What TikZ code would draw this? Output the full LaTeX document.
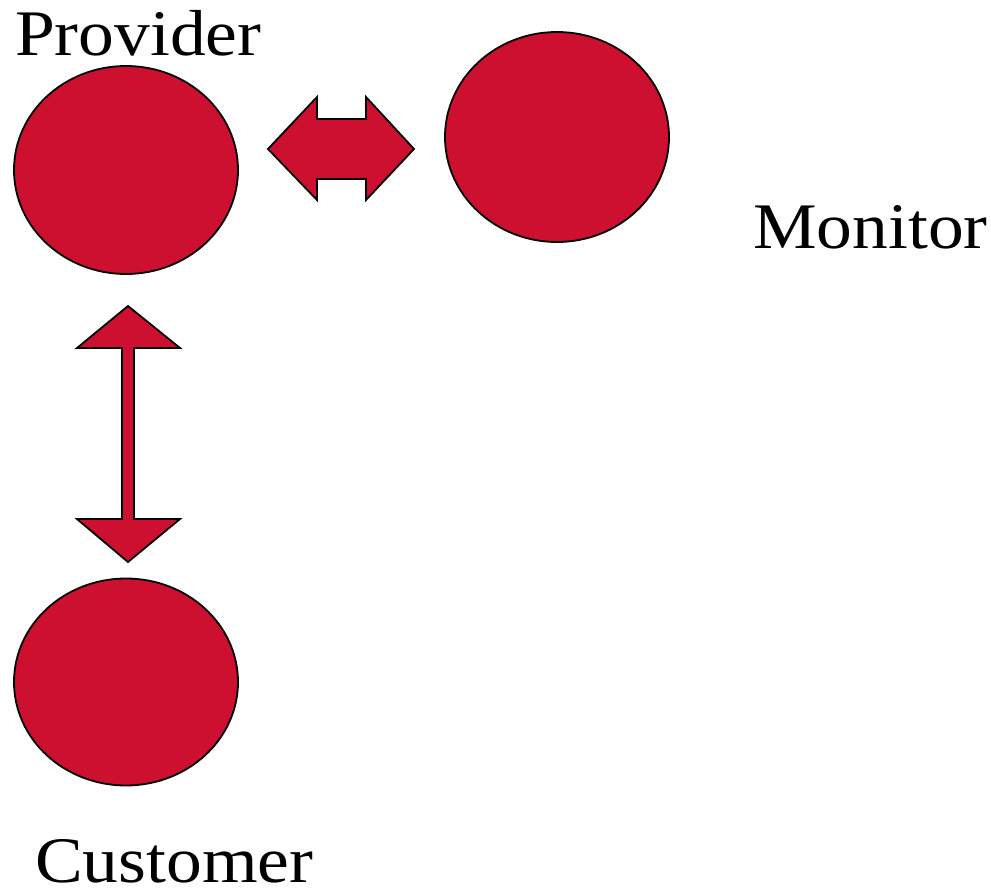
\documentclass[tikz,border=0pt]{standalone}
\usepackage{fontspec}
\setmainfont{Liberation Serif}
\usetikzlibrary{shapes.geometric}
\definecolor{ared}{RGB}{206,16,48}
\newcommand{\widetext}[1]{\scalebox{1.1}[1]{#1}}
\begin{document}
\begin{tikzpicture}[x=1pt,y=-1pt,
  blob/.style={ellipse,draw=black,line width=1.8pt,fill=ared,inner sep=0pt},
  blockarrow/.style={draw=black,line width=1.8pt,fill=ared,line join=miter},
  lbl/.style={anchor=base west,inner sep=0pt,text depth=0pt,font=\fontsize{65}{70}\selectfont}]
\useasboundingbox (0,0) rectangle (991,894);
\node[blob,minimum width=224pt,minimum height=208pt] (provider) at (126,170) {};
\node[blob,minimum width=224pt,minimum height=210pt] (monitor) at (557,137) {};
\node[blob,minimum width=224pt,minimum height=207pt] (customer) at (126,682) {};
\node[lbl] (ptext) at (15,55) {\widetext{Provider}};
\node[lbl] (mtext) at (753,248) {\widetext{Monitor}};
\node[lbl] (ctext) at (35,882) {\widetext{Customer}};
% horizontal double arrow
\draw[blockarrow] (268,149) -- (317,97) -- (317,119) -- (366,119) -- (366,97) -- (414,149)
  -- (366,200) -- (366,179) -- (317,179) -- (317,200) -- cycle;
% vertical double arrow
\draw[blockarrow] (128,306) -- (180,348) -- (134,348) -- (134,519) -- (180,519) -- (128,562)
  -- (77,519) -- (122,519) -- (122,348) -- (77,348) -- cycle;
\end{tikzpicture}
\end{document}
